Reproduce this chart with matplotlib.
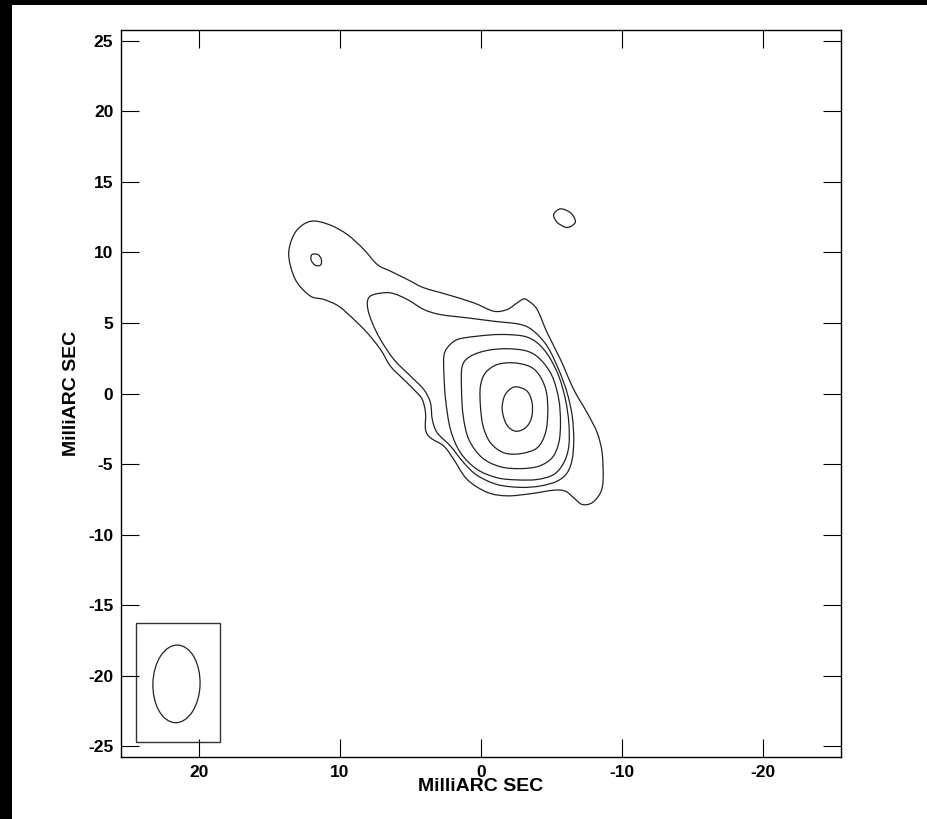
#!/usr/bin/env python3
"""
VLBI total-intensity map: contour outlines with the restoring beam.
"""
import numpy as np
import matplotlib.pyplot as plt
from matplotlib.patches import Ellipse, Rectangle, PathPatch
from matplotlib.path import Path

plt.rcParams['axes.unicode_minus'] = False

# contour outlines, relative RA / Dec offsets in mas (lowest level first)
lev1_x = [13.6, 13.1, 12.07, 10.78, 9.47, 8.3, 7.35, 6.4, 5.2, 4.05, 2.39, 0.51,
          -0.9, -1.85, -2.56, -3.03, -3.38, -3.98, -4.69, -5.63, -6.57, -7.52,
          -8.23, -8.58, -8.65, -8.46, -7.87, -7.16, -6.57, -5.98, -5.15, -3.5,
          -1.85, -0.44, 0.98, 1.93, 2.63, 3.58, 3.93, 3.93, 4.16, 4.64, 5.47,
          6.41, 7.12, 8.06, 9.0, 10.07, 11.13, 12.07, 13.01, 13.49]
lev1_y = [10.2, 11.5, 12.2, 11.97, 11.26, 10.2, 9.14, 8.66, 8.07, 7.49, 7.01, 6.42,
          5.83, 5.95, 6.42, 6.7, 6.54, 5.95, 4.3, 2.41, 0.28, -1.37,
          -2.78, -4.2, -6.09, -7.03, -7.74, -7.86, -7.39, -6.92, -6.85, -7.1,
          -7.25, -7.0, -6.09, -4.67, -3.73, -3.14, -2.55, -1.37, -0.42, 0.16, 0.99,
          1.93, 3.12, 4.3, 5.24, 6.18, 6.66, 6.89, 7.84, 9.02]

lev2_x = [8.01, 7.59, 6.41, 5.22, 4.05, 2.87, 0.98, -0.9, -2.8, -3.74, -4.69,
          -5.5, -6.1, -6.46, -6.57, -6.46, -6.1, -5.39, -4.21, -2.8, -1.15,
          0.27, 1.22, 2.16, 3.1, 3.45, 3.58, 4.05, 4.99, 6.17, 7.12, 7.7, 8.01]
lev2_y = [6.66, 7.01, 7.13, 6.66, 5.95, 5.59, 5.36, 5.12, 4.89, 4.41, 3.35,
          1.7, 0.05, -1.6, -3.26, -4.67, -5.62, -6.21, -6.55, -6.65, -6.45,
          -5.8, -4.91, -3.73, -2.78, -1.84, -0.66, 0.28, 1.23, 2.41, 3.82, 5.0, 5.95]

lev3_x = [2.39, 1.68, 0.27, -1.38, -3.03, -3.98, -4.8, -5.51, -5.98, -6.22, -6.22,
          -5.86, -5.15, -3.98, -2.56, -1.15, 0.27, 1.45, 2.16, 2.51, 2.63, 2.63]
lev3_y = [3.24, 3.82, 4.06, 4.18, 4.06, 3.59, 2.64, 1.23, -0.42, -2.08, -3.73,
          -4.91, -5.74, -6.09, -6.12, -5.97, -5.38, -4.2, -2.55, -0.42, 1.47, 2.64]

lev4_x = [1.33, 0.74, -0.44, -1.85, -3.27, -4.21, -5.04, -5.51, -5.63, -5.51,
          -5.04, -4.09, -2.8, -1.38, -0.08, 0.86, 1.26, 1.38]
lev4_y = [1.93, 2.64, 3.05, 3.17, 3.0, 2.41, 1.23, -0.42, -2.08, -3.49,
          -4.55, -5.15, -5.32, -5.19, -4.55, -3.26, -1.6, 0.28]

lev5_x = [0.04, -0.32, -1.15, -2.32, -3.5, -4.21, -4.64, -4.73, -4.57, -3.98,
          -2.8, -1.62, -0.67, -0.15, 0.04]
lev5_y = [0.52, 1.47, 2.05, 2.17, 1.89, 1.18, 0.05, -1.37, -2.78, -3.85,
          -4.26, -4.2, -3.49, -2.32, -0.9]

lev6_x = [-2.56, -3.27, -3.62, -3.58, -3.15, -2.44, -1.81, -1.5, -1.66, -2.09]
lev6_y = [0.47, 0.16, -0.66, -1.72, -2.43, -2.67, -2.2, -1.13, -0.19, 0.33]

# isolated low-level islands
knot_ne_x = [-5.63, -6.34, -6.69, -6.39, -5.98, -5.39, -5.15]
knot_ne_y = [13.08, 12.8, 12.2, 11.85, 11.78, 12.13, 12.68]
knot_jet_x = [11.98, 11.55, 11.31, 11.36, 11.75, 12.03]
knot_jet_y = [9.84, 9.84, 9.5, 9.1, 9.09, 9.45]

# restoring beam (mas, deg) and its box
beam_x, beam_y = 21.57, -20.57
beam_maj, beam_min, beam_pa = 5.5, 3.34, 1.7
box_x = [24.44, 18.49]
box_y = [-24.7, -16.29]

y_ticks = [-25, -20, -15, -10, -5, 0, 5, 10, 15, 20, 25]
x_ticks = [20, 10, 0, -10, -20]


def closed_curve(xs, ys):
    """Closed smooth outline through the traced vertices (Catmull-Rom as Bezier)."""
    p = np.column_stack([xs, ys])
    n = len(p)
    verts = [p[0]]
    codes = [Path.MOVETO]
    for i in range(n):
        p0, p1, p2, p3 = p[i - 1], p[i], p[(i + 1) % n], p[(i + 2) % n]
        verts += [p1 + (p2 - p0) / 6, p2 - (p3 - p1) / 6, p2]
        codes += [Path.CURVE4] * 3
    return Path(verts, codes)


fig = plt.figure(figsize=(9.28, 8.19), dpi=100)
ax = fig.add_axes([121 / 928, 62 / 819, 720 / 928, 727 / 819])

for xs, ys in [(lev1_x, lev1_y), (lev2_x, lev2_y), (lev3_x, lev3_y),
               (lev4_x, lev4_y), (lev5_x, lev5_y), (lev6_x, lev6_y),
               (knot_ne_x, knot_ne_y), (knot_jet_x, knot_jet_y)]:
    ax.add_patch(PathPatch(closed_curve(xs, ys), fill=False, ec='#222222', lw=0.9))

ax.add_patch(Rectangle((box_x[0], box_y[0]), box_x[1] - box_x[0], box_y[1] - box_y[0],
                       fill=False, ec='#333333', lw=1.0))
ax.add_patch(Ellipse((beam_x, beam_y), beam_min, beam_maj, angle=beam_pa,
                     fill=False, ec='#222222', lw=0.9))

ax.set_xlim(25.5, -25.5)
ax.set_ylim(-25.75, 25.75)
ax.set_xticks(x_ticks)
ax.set_yticks(y_ticks)
ax.tick_params(direction='in', length=13, width=0.8, top=True, right=True,
               labelsize=12.5, pad=5.5)
for lab in ax.get_xticklabels() + ax.get_yticklabels():
    lab.set_fontfamily('Liberation Sans')
    lab.set_fontweight('bold')
for s in ax.spines.values():
    s.set_linewidth(1.0)

lab_kw = dict(fontfamily='Liberation Sans', fontweight='bold', fontsize=14)
ax.set_xlabel('MilliARC SEC', labelpad=-1, **lab_kw)
ax.set_ylabel('MilliARC SEC', labelpad=6, **lab_kw)

# dark frame strips along the top and left edges
fig.patches.append(Rectangle((0, 0), 12 / 928, 1, transform=fig.transFigure,
                             fc='black', ec='none', zorder=-1))
fig.patches.append(Rectangle((0, 1 - 5 / 819), 1, 5 / 819, transform=fig.transFigure,
                             fc='black', ec='none', zorder=-1))

plt.savefig('out.png', dpi=100)
